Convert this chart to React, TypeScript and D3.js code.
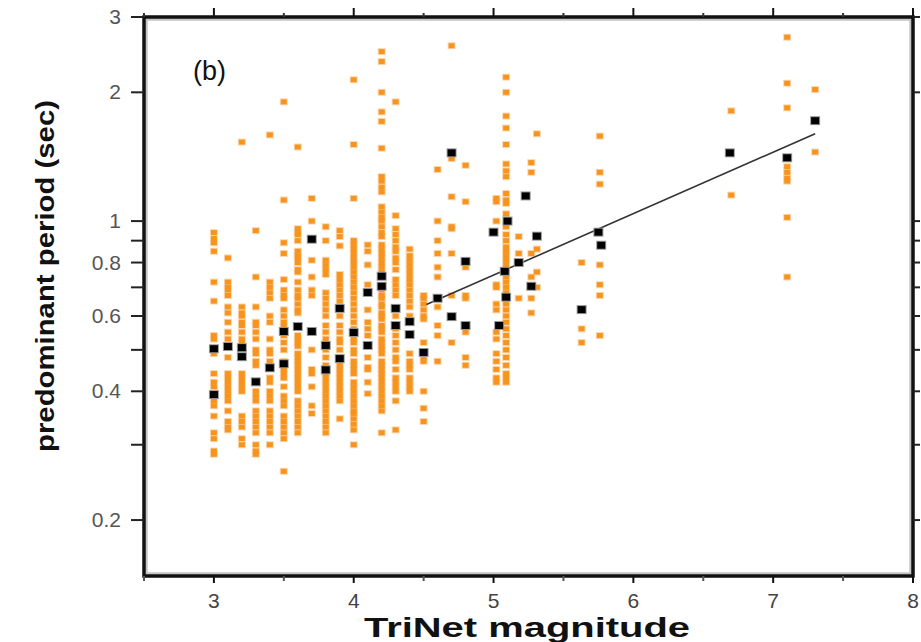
import React from "react";
import * as d3 from "d3";

// ---- data ----
const obsMags = [3.0, 3.1, 3.2, 3.3, 3.4, 3.5, 3.6, 3.7, 3.8, 3.9, 4.0, 4.1, 4.2, 4.3, 4.4, 4.5, 4.6, 4.7, 4.8, 5.02, 5.09, 5.18, 5.27, 5.31, 5.63, 5.76, 6.7, 7.1, 7.3];
const obsPeriods: number[][] = [
  [0.94, 0.91, 0.89, 0.85, 0.72, 0.65, 0.54, 0.53, 0.49, 0.44, 0.42, 0.41, 0.38, 0.37, 0.35, 0.32, 0.31, 0.29, 0.285],
  [0.82, 0.72, 0.70, 0.69, 0.67, 0.63, 0.61, 0.58, 0.55, 0.53, 0.48, 0.44, 0.43, 0.42, 0.41, 0.40, 0.39, 0.38, 0.36, 0.34, 0.33, 0.325],
  [1.53, 0.63, 0.61, 0.60, 0.58, 0.57, 0.55, 0.53, 0.52, 0.44, 0.43, 0.42, 0.41, 0.40, 0.35, 0.34, 0.33, 0.31, 0.30],
  [0.95, 0.74, 0.63, 0.58, 0.57, 0.55, 0.53, 0.50, 0.49, 0.47, 0.46, 0.40, 0.39, 0.38, 0.36, 0.35, 0.34, 0.33, 0.32, 0.30, 0.29, 0.285],
  [1.59, 0.72, 0.70, 0.68, 0.66, 0.60, 0.58, 0.53, 0.50, 0.49, 0.47, 0.43, 0.42, 0.40, 0.39, 0.38, 0.36, 0.35, 0.34, 0.33, 0.32, 0.30],
  [1.90, 1.12, 0.89, 0.84, 0.73, 0.69, 0.67, 0.66, 0.62, 0.60, 0.58, 0.57, 0.54, 0.52, 0.50, 0.47, 0.45, 0.44, 0.43, 0.41, 0.39, 0.38, 0.37, 0.35, 0.34, 0.33, 0.32, 0.31, 0.26],
  [1.49, 0.96, 0.94, 0.93, 0.90, 0.85, 0.83, 0.82, 0.80, 0.77, 0.76, 0.72, 0.69, 0.67, 0.66, 0.64, 0.62, 0.61, 0.54, 0.53, 0.52, 0.51, 0.49, 0.48, 0.47, 0.46, 0.45, 0.44, 0.43, 0.42, 0.41, 0.40, 0.38, 0.37, 0.36, 0.35, 0.34, 0.33, 0.32],
  [1.13, 1.00, 0.81, 0.74, 0.69, 0.67, 0.50, 0.45, 0.44, 0.41, 0.37, 0.355],
  [0.97, 0.90, 0.81, 0.79, 0.77, 0.75, 0.68, 0.66, 0.64, 0.62, 0.60, 0.57, 0.55, 0.53, 0.50, 0.48, 0.46, 0.44, 0.43, 0.42, 0.41, 0.40, 0.39, 0.38, 0.37, 0.36, 0.35, 0.34, 0.33, 0.32],
  [0.95, 0.92, 0.875, 0.75, 0.73, 0.71, 0.69, 0.67, 0.65, 0.60, 0.57, 0.55, 0.53, 0.52, 0.50, 0.46, 0.45, 0.44, 0.43, 0.42, 0.41, 0.40, 0.39, 0.38, 0.345],
  [2.14, 1.51, 1.13, 0.90, 0.88, 0.86, 0.84, 0.82, 0.80, 0.78, 0.76, 0.74, 0.72, 0.70, 0.68, 0.66, 0.64, 0.62, 0.60, 0.58, 0.56, 0.53, 0.52, 0.50, 0.49, 0.47, 0.46, 0.45, 0.44, 0.42, 0.41, 0.40, 0.39, 0.38, 0.37, 0.36, 0.355, 0.345, 0.335, 0.325, 0.30],
  [0.88, 0.85, 0.79, 0.71, 0.62, 0.58, 0.56, 0.54, 0.48, 0.455, 0.45, 0.42, 0.395],
  [2.49, 2.36, 2.00, 1.80, 1.71, 1.48, 1.27, 1.24, 1.20, 1.17, 1.08, 1.05, 1.02, 1.00, 0.97, 0.94, 0.92, 0.88, 0.86, 0.84, 0.82, 0.80, 0.78, 0.76, 0.69, 0.67, 0.66, 0.64, 0.63, 0.61, 0.60, 0.59, 0.57, 0.56, 0.55, 0.53, 0.52, 0.51, 0.50, 0.49, 0.47, 0.46, 0.45, 0.44, 0.43, 0.42, 0.41, 0.40, 0.39, 0.38, 0.37, 0.36, 0.32],
  [1.90, 1.03, 0.96, 0.93, 0.90, 0.87, 0.85, 0.82, 0.80, 0.77, 0.73, 0.71, 0.69, 0.67, 0.60, 0.56, 0.54, 0.52, 0.50, 0.48, 0.47, 0.45, 0.43, 0.42, 0.41, 0.40, 0.38, 0.325],
  [0.86, 0.83, 0.81, 0.79, 0.77, 0.75, 0.73, 0.71, 0.69, 0.67, 0.65, 0.63, 0.60, 0.49, 0.47, 0.46, 0.45, 0.43, 0.42, 0.41, 0.40],
  [0.67, 0.66, 0.64, 0.62, 0.60, 0.59, 0.52, 0.48, 0.47, 0.40, 0.365, 0.34],
  [1.32, 1.00, 0.90, 0.84, 0.78, 0.74, 0.63, 0.57, 0.54, 0.47],
  [2.57, 1.40, 1.14, 0.97, 0.96, 0.84, 0.67, 0.52],
  [1.35, 1.11, 0.78, 0.67, 0.66, 0.55, 0.48, 0.46],
  [1.13, 1.11, 1.00, 0.71, 0.70, 0.64, 0.62, 0.55, 0.53, 0.49, 0.47, 0.45, 0.43, 0.42],
  [2.17, 2.00, 1.76, 1.65, 1.51, 1.36, 1.31, 1.27, 1.16, 1.12, 1.10, 1.04, 0.97, 0.93, 0.90, 0.87, 0.85, 0.83, 0.81, 0.79, 0.77, 0.74, 0.72, 0.70, 0.68, 0.66, 0.64, 0.62, 0.60, 0.58, 0.56, 0.54, 0.52, 0.50, 0.48, 0.46, 0.44, 0.43, 0.42],
  [0.92, 0.84, 0.66],
  [1.37, 1.30, 0.84, 0.74, 0.66, 0.61],
  [1.60, 0.86, 0.76, 0.70],
  [0.80, 0.56, 0.52],
  [1.58, 1.30, 1.22, 0.79, 0.71, 0.67, 0.54],
  [1.81, 1.15],
  [2.69, 2.10, 1.84, 1.34, 1.30, 1.26, 1.24, 1.02, 0.74],
  [2.03, 1.45],
];

const medMag = [3.0, 3.0, 3.1, 3.2, 3.2, 3.3, 3.4, 3.5, 3.5, 3.6, 3.7, 3.7, 3.8, 3.8, 3.9, 3.9, 4.0, 4.1, 4.1, 4.2, 4.2, 4.3, 4.3, 4.4, 4.4, 4.5, 4.6, 4.7, 4.7, 4.8, 4.8, 5.0, 5.04, 5.1, 5.08, 5.09, 5.18, 5.23, 5.27, 5.31, 5.63, 5.75, 5.77, 6.69, 7.1, 7.3];
const medPeriod = [0.503, 0.393, 0.509, 0.506, 0.482, 0.421, 0.454, 0.552, 0.464, 0.567, 0.907, 0.552, 0.512, 0.449, 0.625, 0.477, 0.549, 0.681, 0.512, 0.743, 0.704, 0.625, 0.570, 0.582, 0.543, 0.493, 0.660, 1.444, 0.598, 0.805, 0.570, 0.942, 0.570, 1.0, 0.763, 0.664, 0.80, 1.145, 0.704, 0.922, 0.621, 0.942, 0.878, 1.444, 1.406, 1.717];

const fitMag = [4.52, 7.3];
const fitPeriod = [0.638, 1.6];

const xTicks = [3, 4, 5, 6, 7, 8];
const xMinorTicks = [2.5, 3.5, 4.5, 5.5, 6.5, 7.5];
const yTickLabels = [3, 2, 1, 0.8, 0.6, 0.4, 0.2];
const yTicksAll = [3, 2, 1, 0.9, 0.8, 0.7, 0.6, 0.5, 0.4, 0.3, 0.2];

export default function App() {
  const W = 921, H = 642;
  const left = 144, right = 913, top = 17, bottom = 576;
  const x = d3.scaleLinear().domain([2.5, 8]).range([left, right]);
  const y = d3.scaleLog().domain([0.148, 3]).range([bottom, top]);
  const line = d3.line<number>().x((_, i) => x(fitMag[i])).y((d) => y(d));

  const orange: { m: number; p: number }[] = [];
  obsMags.forEach((m, i) => obsPeriods[i].forEach((p) => orange.push({ m, p })));

  const font = "Liberation Sans, Arial, sans-serif";

  return (
    <svg width={W} height={H} style={{ position: "absolute", left: 0, top: 0, background: "#fff" }}>
      <rect x={0} y={0} width={W} height={H} fill="#fff" />
      {/* inner gray shadow frame */}
      <rect x={left + 2.5} y={top + 2.5} width={right - left - 5} height={bottom - top - 5} fill="none" stroke="#c4c4c4" strokeWidth={2.5} />
      {/* orange observations */}
      <g>
        {orange.map((d, i) => (
          <rect key={"h" + i} x={x(d.m) - 4} y={y(d.p) - 3.5} width={8} height={7} fill="#fcd7b0" />
        ))}
        {orange.map((d, i) => (
          <rect key={"c" + i} x={x(d.m) - 3} y={y(d.p) - 2.5} width={6} height={5} fill="#f7941e" />
        ))}
      </g>
      {/* fit line */}
      <path d={line(fitPeriod) || ""} fill="none" stroke="#333" strokeWidth={1.6} />
      {/* medians */}
      <g>
        {medMag.map((m, i) => (
          <g key={i}>
            <rect x={x(m) - 5} y={y(medPeriod[i]) - 4.5} width={10} height={9} fill="#999" />
            <rect x={x(m) - 4} y={y(medPeriod[i]) - 3.5} width={8} height={7} fill="#000" />
          </g>
        ))}
      </g>
      {/* frame */}
      <rect x={left} y={top} width={right - left} height={bottom - top} fill="none" stroke="#111" strokeWidth={3.5} />
      {/* x ticks top & bottom */}
      {xTicks.map((t) => (
        <g key={"xt" + t}>
          <line x1={x(t)} x2={x(t)} y1={top - 9} y2={top} stroke="#111" strokeWidth={2} />
          <line x1={x(t)} x2={x(t)} y1={bottom} y2={bottom + 7} stroke="#111" strokeWidth={2} />
          <text x={x(t)} y={608} textAnchor="middle" fontSize={21} fill="#444" fontFamily={font}>{t}</text>
        </g>
      ))}
      {xMinorTicks.map((t) => (
        <g key={"xm" + t}>
          <line x1={x(t)} x2={x(t)} y1={top - 4} y2={top} stroke="#333" strokeWidth={2} />
          <line x1={x(t)} x2={x(t)} y1={bottom} y2={bottom + 5} stroke="#555" strokeWidth={2} />
        </g>
      ))}
      {/* y ticks */}
      {yTicksAll.map((t) => (
        <g key={"yt" + t}>
          <line x1={left - 13} x2={left} y1={y(t)} y2={y(t)} stroke="#222" strokeWidth={2} />
          <line x1={right} x2={right + 7} y1={y(t)} y2={y(t)} stroke="#222" strokeWidth={2} />
        </g>
      ))}
      {yTickLabels.map((t) => (
        <text key={"yl" + t} x={121} y={y(t) + 7} textAnchor="end" fontSize={21} fill="#555" fontFamily={font}>{String(t)}</text>
      ))}
      {/* labels */}
      <text x={193} y={80} fontSize={27} fill="#111" fontFamily={font}>(b)</text>
      <text x={527} y={637} textAnchor="middle" fontSize={27} fontWeight="bold" fill="#111" fontFamily={font} textLength={326} lengthAdjust="spacingAndGlyphs">TriNet magnitude</text>
      <text transform="translate(54,276) rotate(-90)" textAnchor="middle" fontSize={25} fontWeight="bold" fill="#111" fontFamily={font} textLength={352} lengthAdjust="spacingAndGlyphs">predominant period (sec)</text>
    </svg>
  );
}
